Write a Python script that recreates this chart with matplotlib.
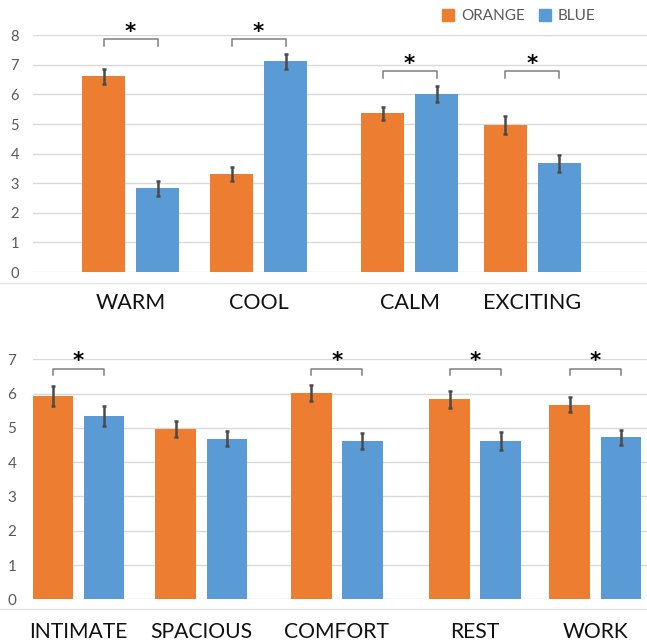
import matplotlib
matplotlib.use("Agg")
import matplotlib.pyplot as plt
from matplotlib.lines import Line2D
from matplotlib.patches import Patch
import numpy as np

# ---------------- data ----------------
top_categories = ["WARM", "COOL", "CALM", "EXCITING"]
top_orange = [6.61, 3.31, 5.36, 4.98]
top_orange_err = [0.24, 0.23, 0.22, 0.30]
top_blue = [2.83, 7.12, 6.03, 3.67]
top_blue_err = [0.25, 0.25, 0.27, 0.30]
top_sig = [True, True, True, True]
top_sig_level = [7.86, 7.86, 6.79, 6.79]

bot_categories = ["INTIMATE", "SPACIOUS", "COMFORT", "REST", "WORK"]
bot_orange = [5.94, 4.97, 6.02, 5.83, 5.67]
bot_orange_err = [0.29, 0.23, 0.23, 0.26, 0.22]
bot_blue = [5.34, 4.69, 4.62, 4.62, 4.72]
bot_blue_err = [0.29, 0.22, 0.23, 0.27, 0.23]
bot_sig = [True, False, True, True, True]
bot_sig_level = [6.73, 6.73, 6.73, 6.73, 6.73]

series_names = ["ORANGE", "BLUE"]

# ---------------- layout / style ----------------
W, H = 647, 641
ORANGE = "#ED7D31"
BLUE = "#5B9BD5"
GRID = "#D9D9D9"
TICKC = "#595959"
ERRC = "#4A4A4A"
BRC = "#7F7F7F"
FONT = "Lato"

top_pos = [0.0, 1.0, 2.18, 3.14]
bot_pos = [0.0, 0.961, 2.02, 3.10, 4.04]

fig = plt.figure(figsize=(W / 100, H / 100), dpi=100)
plt.rcParams["font.family"] = [FONT, "DejaVu Sans"]


def px_axes(left, top, right, bottom):
    return fig.add_axes([left / W, 1 - bottom / H, (right - left) / W, (bottom - top) / H])


def draw_panel(ax, pos, cats, o, oe, b, be, sig, lvl, ymax, xlim, width, off,
               tick_pad, label_pad, label_size, tick_size, tick_depth, star_dy):
    pos = np.asarray(pos)
    ax.set_axisbelow(True)
    ax.bar(pos - off, o, width, color=ORANGE, zorder=2)
    ax.bar(pos + off, b, width, color=BLUE, zorder=2)
    ax.errorbar(pos - off, o, yerr=oe, fmt="none", ecolor=ERRC, elinewidth=1.8,
                capsize=1.5, capthick=1.8, zorder=3)
    ax.errorbar(pos + off, b, yerr=be, fmt="none", ecolor=ERRC, elinewidth=1.8,
                capsize=1.5, capthick=1.8, zorder=3)
    for p, s, l in zip(pos, sig, lvl):
        if not s:
            continue
        ax.plot([p - off, p - off, p + off, p + off],
                [l - tick_depth, l, l, l - tick_depth],
                color=BRC, lw=1.1, clip_on=False, zorder=4)
        ax.text(p, l + star_dy, "*", ha="center", va="center", fontsize=15.5,
                fontweight="bold", color="black", family="DejaVu Sans", clip_on=False)
    ax.set_ylim(0, ymax)
    ax.set_xlim(*xlim)
    ax.set_yticks(range(0, ymax + 1))
    ax.yaxis.grid(True, color=GRID, lw=1.0)
    ax.xaxis.grid(False)
    for sp in ax.spines.values():
        sp.set_visible(False)
    ax.set_xticks(pos)
    ax.set_xticklabels(cats, fontsize=label_size, color="#111111")
    ax.tick_params(axis="x", length=0, pad=label_pad)
    ax.tick_params(axis="y", length=0, pad=tick_pad, labelsize=tick_size, labelcolor=TICKC)


ax1 = px_axes(33, 35.3, 647, 272)
draw_panel(ax1, top_pos, top_categories, top_orange, top_orange_err, top_blue, top_blue_err,
           top_sig, top_sig_level, 8, (-0.762, 4.035), 0.336, 0.211,
           tick_pad=10, label_pad=15, label_size=15.5, tick_size=10.5, tick_depth=0.22,
           star_dy=0.24)

ax2 = px_axes(33, 359.3, 647, 599.3)
draw_panel(ax2, bot_pos, bot_categories, bot_orange, bot_orange_err, bot_blue, bot_blue_err,
           bot_sig, bot_sig_level, 7, (-0.354, 4.443), 0.318, 0.2,
           tick_pad=12, label_pad=16, label_size=15.2, tick_size=11, tick_depth=0.2,
           star_dy=0.21)

# separator (horizontal axis) lines spanning the full width
for ypx in (283, 609):
    fig.add_artist(Line2D([0, 1], [1 - ypx / H, 1 - ypx / H], color="#E3E3E3", lw=1.0,
                          transform=fig.transFigure))

handles = [Patch(color=ORANGE), Patch(color=BLUE)]
fig.legend(handles, series_names, loc="center left", bbox_to_anchor=(442 / W, 1 - 16 / H),
           ncol=2, frameon=False, fontsize=11, labelcolor=TICKC,
           handlelength=0.8, handleheight=0.8, handletextpad=0.45, columnspacing=0.9,
           borderpad=0, borderaxespad=0)

fig.savefig("out.png", dpi=100)
